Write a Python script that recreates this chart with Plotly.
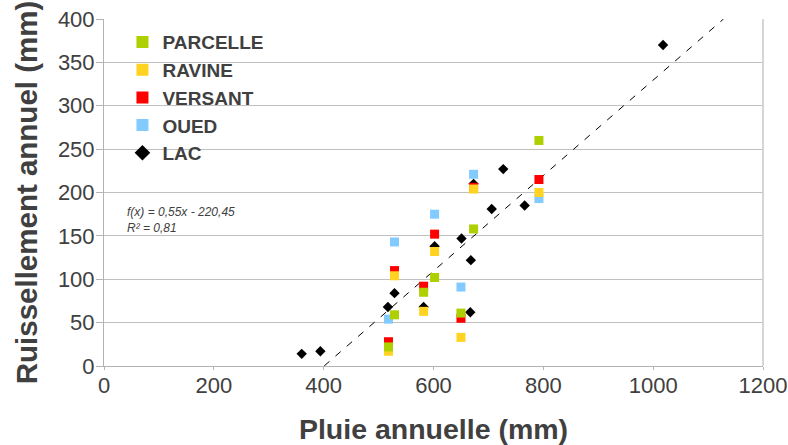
import plotly.graph_objects as go

# ---- data ----
lac_x = [360, 394, 517, 529, 582, 602, 651, 668, 667, 673, 706, 727, 766, 1018]
lac_y = [14, 17, 68, 84, 68, 138, 147, 122, 62, 210, 181, 227, 185, 370]

parcelle_x = [518, 529, 582, 602, 650, 673, 792]
parcelle_y = [22, 59, 85, 102, 61, 158, 260]

ravine_x = [518, 529, 582, 602, 650, 673, 792]
ravine_y = [17, 104, 63, 132, 33, 204, 200]

versant_x = [518, 529, 582, 602, 650, 673, 792]
versant_y = [28, 110, 92, 152, 55, 206, 215]

oued_x = [518, 529, 602, 650, 673, 792]
oued_y = [54, 143, 175, 91, 221, 193]

slope = 0.55
intercept = -220.45
r2 = 0.81

x_ticks = [0, 200, 400, 600, 800, 1000, 1200]
y_ticks = [0, 50, 100, 150, 200, 250, 300, 350, 400]

# trend line between y=0 and y=400
trend_x = [(0 - intercept) / slope, (400 - intercept) / slope]
trend_y = [slope * v + intercept for v in trend_x]

FONT = "Liberation Sans, Arial, sans-serif"
TXT = "#404040"

fig = go.Figure()

fig.add_trace(go.Scatter(x=trend_x, y=trend_y, mode="lines",
                         line=dict(color="black", width=1, dash="7px,8px"),
                         showlegend=False, hoverinfo="skip"))

series = [
    ("LAC", lac_x, lac_y, "black", "diamond", 8),
    ("OUED", oued_x, oued_y, "#83caff", "square", 9),
    ("VERSANT", versant_x, versant_y, "#ff0000", "square", 9),
    ("RAVINE", ravine_x, ravine_y, "#ffd320", "square", 9),
    ("PARCELLE", parcelle_x, parcelle_y, "#aecf00", "square", 9),
]
for name, xs, ys, col, sym, sz in series:
    fig.add_trace(go.Scatter(x=xs, y=ys, mode="markers", name=name,
                             marker=dict(color=col, symbol=sym, size=sz,
                                         line=dict(width=0))))

fig.add_annotation(x=0.032, y=0.47, xref="paper", yref="paper",
                   xanchor="left", yanchor="top", showarrow=False,
                   align="left",
                   text=f"<i>f(x) = {str(slope).replace('.', ',')}x - {str(-intercept).replace('.', ',')}<br>R² = {str(r2).replace('.', ',')}</i>",
                   font=dict(family=FONT, size=12, color=TXT))

fig.update_layout(
    width=788, height=445,
    margin=dict(l=104, r=25, t=19, b=79),
    paper_bgcolor="white", plot_bgcolor="white",
    font=dict(family=FONT, color=TXT),
    legend=dict(x=0.028, y=0.988, xanchor="left", yanchor="top",
                traceorder="reversed", itemsizing="constant",
                font=dict(family=FONT, size=19, color=TXT, weight="bold"),
                bgcolor="rgba(0,0,0,0)", itemwidth=30),
    xaxis=dict(range=[0, 1200], tickvals=x_ticks, showgrid=False,
               showline=True, linecolor="#b3b3b3", linewidth=1,
               ticks="outside", ticklen=3, tickcolor="#b3b3b3",
               ticklabelstandoff=-3,
               tickfont=dict(family=FONT, size=22, color=TXT),
               zeroline=False, automargin=False,
               title=dict(text="<b>Pluie annuelle (mm)</b>", standoff=25,
                          font=dict(family=FONT, size=28.5, color=TXT))),
    yaxis=dict(range=[0, 400], tickvals=y_ticks, showgrid=True,
               gridcolor="#c0c0c0", gridwidth=1,
               showline=True, linecolor="#b3b3b3", linewidth=1,
               ticks="outside", ticklen=7, tickcolor="#b3b3b3",
               ticklabelstandoff=-3,
               tickfont=dict(family=FONT, size=22, color=TXT),
               zeroline=False, automargin=False,
               title=dict(text="<b>Ruissellement annuel (mm)</b>", standoff=11,
                          font=dict(family=FONT, size=29.5, color=TXT))),
)
fig.add_shape(type="line", xref="paper", yref="paper", x0=1, x1=1, y0=0, y1=1,
              line=dict(color="#c8c8c8", width=1.5))

fig.write_html("out.html", config={"displayModeBar": False},
               post_script="document.body.style.margin='0';"
                           "document.documentElement.style.overflow='hidden';")
